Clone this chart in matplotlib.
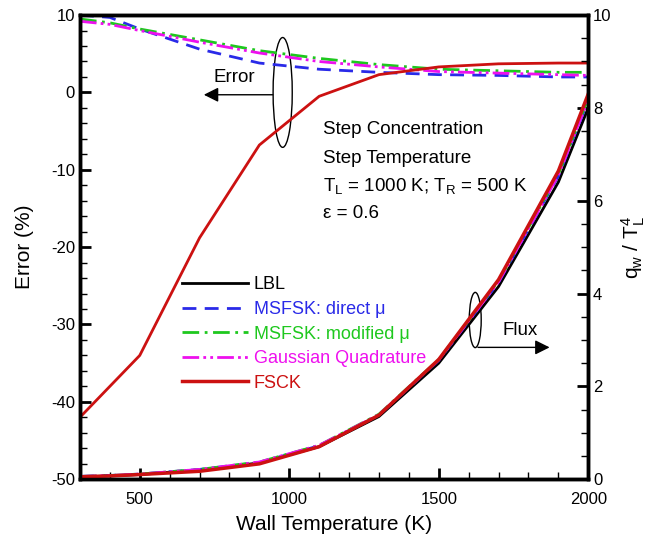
import numpy as np
import matplotlib.pyplot as plt
from matplotlib.patches import Ellipse
from matplotlib.ticker import MultipleLocator

plt.rcParams["font.family"] = ["Liberation Sans", "DejaVu Sans"]
plt.rcParams["mathtext.default"] = "regular"
plt.rcParams["axes.unicode_minus"] = False

# Wall temperature (K)
temps = [300, 400, 500, 700, 900, 1100, 1300, 1500, 1700, 1900, 2000]

# Relative error of the wall flux (%)
err_direct = [10.0, 9.7, 8.2, 5.6, 3.8, 3.0, 2.6, 2.3, 2.2, 2.0, 2.0]
err_modified = [9.5, 9.0, 8.2, 6.8, 5.4, 4.4, 3.6, 3.0, 2.8, 2.6, 2.6]
err_gauss = [9.2, 8.8, 8.0, 6.5, 5.1, 4.0, 3.3, 2.7, 2.5, 2.3, 2.2]
err_fsck = [-42, -38, -34, -18.8, -6.8, -0.5, 2.3, 3.3, 3.7, 3.8, 3.8]

# Non-dimensional wall flux q_w / T_L^4
flux_lbl = [0.05, 0.07, 0.10, 0.20, 0.35, 0.70, 1.35, 2.50, 4.15, 6.40, 8.00]
flux_direct = [0.06, 0.08, 0.11, 0.21, 0.36, 0.72, 1.38, 2.56, 4.24, 6.53, 8.16]
flux_modified = [0.06, 0.08, 0.11, 0.21, 0.37, 0.73, 1.40, 2.58, 4.27, 6.57, 8.21]
flux_gauss = [0.06, 0.08, 0.11, 0.21, 0.37, 0.73, 1.39, 2.57, 4.25, 6.55, 8.18]
flux_fsck = [0.05, 0.07, 0.10, 0.17, 0.33, 0.70, 1.38, 2.58, 4.30, 6.64, 8.30]

fig = plt.figure(figsize=(6.5, 5.39), dpi=100)
ax = fig.add_axes([0.123, 0.111, 0.782, 0.861])
ax2 = ax.twinx()

lw = 2
ax.plot(temps, err_direct, color="#2a2ae8", linestyle=(0, (5, 3)), linewidth=lw)
ax.plot(temps, err_modified, color="#1ec81e", linestyle=(0, (6, 2, 1, 2)), linewidth=lw)
ax.plot(temps, err_gauss, color="#ee10ee", linestyle=(0, (6, 1.5, 1, 1.5, 1, 1.5)), linewidth=lw)
ax.plot(temps, err_fsck, color="#cc1111", linewidth=lw)

ax2.plot(temps, flux_lbl, color="black", linewidth=lw, label="LBL")
ax2.plot(temps, flux_direct, color="#2a2ae8", linestyle=(0, (5, 3)), linewidth=lw,
         label="MSFSK: direct μ")
ax2.plot(temps, flux_modified, color="#1ec81e", linestyle=(0, (6, 2, 1, 2)), linewidth=lw,
         label="MSFSK: modified μ")
ax2.plot(temps, flux_gauss, color="#ee10ee", linestyle=(0, (6, 1.5, 1, 1.5, 1, 1.5)),
         linewidth=lw, label="Gaussian Quadrature")
ax2.plot(temps, flux_fsck, color="#cc1111", linewidth=lw + 0.5, label="FSCK")

ax.set_xlim(300, 2000)
ax.set_ylim(-50, 10)
ax2.set_ylim(0, 10)

ax.xaxis.set_major_locator(MultipleLocator(500))
ax.xaxis.set_minor_locator(MultipleLocator(100))
ax.yaxis.set_major_locator(MultipleLocator(10))
ax.yaxis.set_minor_locator(MultipleLocator(2))
ax2.yaxis.set_major_locator(MultipleLocator(2))
ax2.yaxis.set_minor_locator(MultipleLocator(0.5))

for a in (ax, ax2):
    a.tick_params(which="major", direction="in", length=8, width=2, labelsize=12)
    a.tick_params(which="minor", direction="in", length=5, width=1)
    for s in a.spines.values():
        s.set_linewidth(2.5)
ax.tick_params(axis="x", top=False, pad=9)
ax.tick_params(axis="y", right=False)

ax.set_xlabel("Wall Temperature (K)", fontsize=15, labelpad=6)
ax.set_ylabel("Error (%)", fontsize=15, labelpad=12)
ax2.set_ylabel("q$_w$ / T$_L^4$", fontsize=15, rotation=90, labelpad=6)

# annotation block
tx = 1112
fs = 13.5
ax.text(tx, -4.85, "Step Concentration", fontsize=fs, va="center")
ax.text(tx, -8.5, "Step Temperature", fontsize=fs, va="center")
ax.text(tx, -12.1, "T$_L$ = 1000 K; T$_R$ = 500 K", fontsize=fs, va="center")
ax.text(tx, -15.6, "ε = 0.6", fontsize=fs, va="center")

# error marker
ax.add_patch(Ellipse((978, 0), 64, 14.2, fill=False, color="black", lw=1))
ax.annotate("", xy=(705, -0.3), xytext=(954, -0.3),
            arrowprops=dict(arrowstyle="-|>", color="black", lw=1, mutation_scale=22))
ax.text(817, 1.9, "Error", fontsize=fs, ha="center", va="center")

# flux marker
ax2.add_patch(Ellipse((1622, 3.43), 40, 1.19, fill=False, color="black", lw=1))
ax2.annotate("", xy=(1880, 2.84), xytext=(1622, 2.84),
             arrowprops=dict(arrowstyle="-|>", color="black", lw=1, mutation_scale=22))
ax2.text(1773, 3.2, "Flux", fontsize=fs, ha="center", va="center")

ax2.legend(loc="upper left", bbox_to_anchor=(0.2, 0.437), frameon=False, fontsize=13,
           handlelength=3.7, handletextpad=0.3, labelspacing=0.42, borderpad=0,
           borderaxespad=0, labelcolor="linecolor")

fig.savefig("out.png", dpi=100)
